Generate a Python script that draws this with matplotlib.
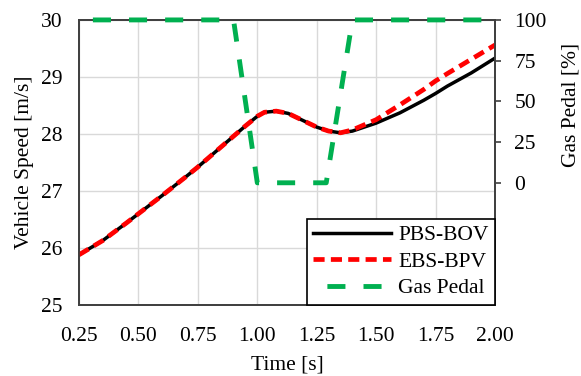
import matplotlib
matplotlib.use('Agg')
import matplotlib.pyplot as plt
import numpy as np

plt.rcParams['font.family'] = ['Liberation Serif', 'DejaVu Serif']
plt.rcParams['lines.scale_dashes'] = False

# data
t_pbs = [0.25, 0.35, 0.45, 0.50, 0.60, 0.70, 0.75, 0.80, 0.90, 0.95, 1.00, 1.03,
         1.08, 1.13, 1.20, 1.25, 1.30, 1.35, 1.40, 1.50, 1.60, 1.70, 1.75, 1.80, 1.90, 2.00]
v_pbs = [25.88, 26.13, 26.44, 26.60, 26.92, 27.25, 27.42, 27.60, 27.96, 28.14, 28.31, 28.38,
         28.40, 28.36, 28.22, 28.12, 28.05, 28.02, 28.05, 28.19, 28.37, 28.59, 28.71, 28.84, 29.07, 29.33]

t_ebs = [0.25, 0.35, 0.45, 0.50, 0.60, 0.70, 0.75, 0.80, 0.90, 0.95, 1.00, 1.03,
         1.08, 1.13, 1.20, 1.25, 1.30, 1.35, 1.40, 1.50, 1.60, 1.70, 1.75, 1.80, 1.90, 2.00]
v_ebs = [25.88, 26.13, 26.44, 26.60, 26.92, 27.25, 27.42, 27.60, 27.96, 28.14, 28.31, 28.38,
         28.40, 28.36, 28.22, 28.12, 28.05, 28.02, 28.07, 28.25, 28.51, 28.78, 28.93, 29.06, 29.31, 29.56]

t_gas = [0.25, 0.90, 1.00, 1.29, 1.40, 2.00]
gas = [100, 100, 0, 0, 100, 100]

x_ticks = [0.25, 0.50, 0.75, 1.00, 1.25, 1.50, 1.75, 2.00]
y_ticks = [25, 26, 27, 28, 29, 30]
gas_ticks = [0, 25, 50, 75, 100]

fs = 15.5
spine_col = '#404040'

fig = plt.figure(figsize=(5.81, 3.76), dpi=100)
ax = fig.add_axes([0.136, 0.189, 0.716, 0.758])
ax2 = ax.twinx()

l1, = ax.plot(t_pbs, v_pbs, color='black', linewidth=2.5, label='PBS-BOV', zorder=3)
l2, = ax.plot(t_ebs, v_ebs, color='#ff0000', linewidth=3.4, linestyle=(0, (8, 4.5)),
              label='EBS-BPV', zorder=4)
l3, = ax2.plot(t_gas, gas, color='#00b050', linewidth=3.5, linestyle=(16, (13, 13)),
               label='Gas Pedal', clip_on=False, zorder=5)

ax.set_xlim(0.25, 2.0)
ax.set_ylim(25, 30)
ax.set_xticks(x_ticks)
ax.set_xticklabels([f'{v:.2f}' for v in x_ticks])
ax.set_yticks(y_ticks)
ax.tick_params(axis='y', length=0, labelsize=fs, pad=12)
ax.tick_params(axis='x', length=0, labelsize=fs, pad=16)
ax.grid(True, color='#d9d9d9', linewidth=1.0)
ax.set_axisbelow(True)
ax.set_xlabel('Time [s]', fontsize=fs, labelpad=7)
ax.set_ylabel('Vehicle Speed [m/s]', fontsize=fs, labelpad=5)

ax2.set_ylim(-75, 100)
ax2.set_yticks(gas_ticks)
ax2.tick_params(axis='y', length=4, width=1.2, color=spine_col, labelsize=fs, pad=10)
ax2.set_ylabel('Gas Pedal [%]', fontsize=fs)
ax2.yaxis.set_label_coords(1.16, 0.70)

for a in (ax, ax2):
    for s in a.spines.values():
        s.set_color(spine_col)
        s.set_linewidth(1.3)

leg = ax2.legend(handles=[l1, l2, l3], loc='lower right', fontsize=fs, frameon=True,
                 fancybox=False, borderaxespad=0, handlelength=3.6, handletextpad=0.35,
                 labelspacing=0.3, borderpad=0.3)
leg.get_frame().set_edgecolor('black')
leg.get_frame().set_linewidth(1.2)
leg.get_frame().set_alpha(1)

fig.savefig('out.png', dpi=100)
